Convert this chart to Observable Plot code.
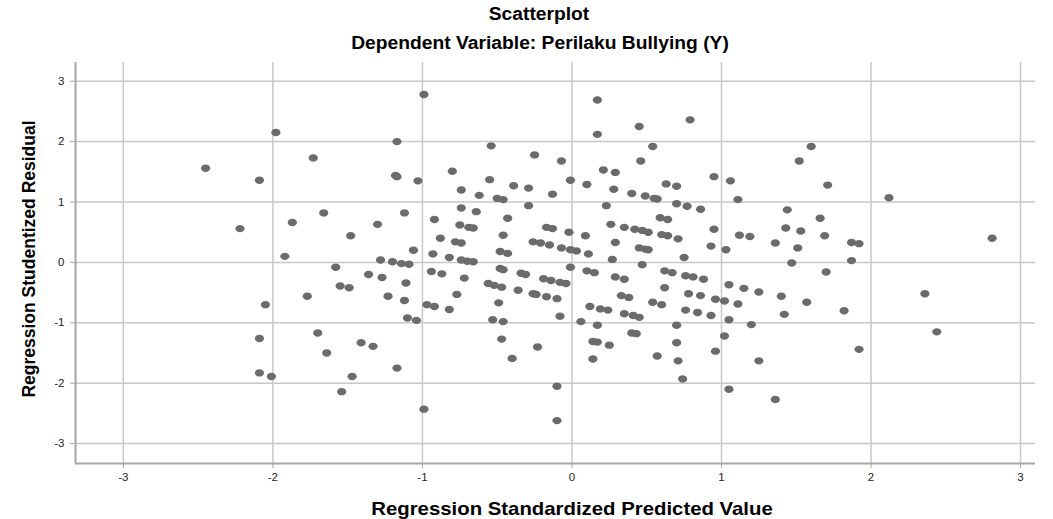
<!DOCTYPE html>
<html><head><meta charset="utf-8">
<script src="https://cdn.jsdelivr.net/npm/d3@7"></script>
<script src="https://cdn.jsdelivr.net/npm/@observablehq/plot@0.6"></script>
<style>
body{margin:0;background:#fff;font-family:"Liberation Sans",Arial,sans-serif}
#wrap{position:relative;width:1053px;height:519px}
.t{position:absolute;white-space:nowrap;font-weight:bold;color:#000;line-height:1;transform:translate(-50%,-50%) scale(1.1,1)}
#chart svg{display:block}
</style></head><body>
<div id="wrap">
<div id="chart"></div>
<div class="t" style="left:539px;top:15px;font-size:17.5px">Scatterplot</div>
<div class="t" style="left:540px;top:44px;font-size:17.5px">Dependent Variable: Perilaku Bullying (Y)</div>
<div class="t" style="left:572px;top:509px;font-size:18.5px">Regression Standardized Predicted Value</div>
<div class="t" style="left:29px;top:259px;font-size:17.5px;transform:translate(-50%,-50%) scale(1.1,1) rotate(-90deg)">Regression Studentized Residual</div>
</div>
<script>
const predicted = [-1.98,-2.45,-2.09,-1.73,-1.66,-1.87,-2.22,-1.92,-1.77,-2.05,-1.70,-2.09,-2.09,-2.01,-1.64,
-0.99,-1.17,-0.54,-0.25,-0.07,-1.18,-1.17,-1.03,-0.80,-0.55,-0.39,-0.29,-0.01,-0.74,-0.62,-0.50,-0.46,-0.13,-0.29,
-1.12,-0.74,-0.64,-1.30,-0.92,-0.75,-0.69,-0.66,-0.43,-0.17,-0.13,-0.02,-1.48,-0.88,-0.78,-0.74,-0.46,-0.26,-0.21,
-0.15,-0.07,-0.01,-1.06,-0.93,-0.82,-0.48,-0.43,-1.28,-1.20,-1.14,-1.09,-1.58,-0.74,-0.70,-0.66,-0.94,-0.87,-0.48,
-0.46,-0.34,-0.31,-0.19,-0.14,-0.08,-0.04,-1.36,-1.27,-1.55,-1.49,-1.11,-0.72,-0.56,-0.52,-0.47,-0.36,-0.26,-0.24,
-0.17,-0.10,-1.23,-1.12,-0.77,-0.97,-0.92,-0.82,-0.49,-1.10,-1.04,-0.53,-0.46,-0.08,-1.41,-1.33,-1.17,-1.47,-1.54,
-0.47,-0.40,-0.23,-0.10,-0.99,-0.10,
0.17,0.17,0.45,0.79,0.54,0.46,0.21,0.29,0.10,0.28,0.63,0.70,0.95,1.06,1.11,0.40,0.49,0.55,0.57,0.23,0.70,0.77,0.86,
0.59,0.64,0.26,0.35,0.42,0.47,0.51,0.95,0.09,0.60,0.64,0.71,1.12,1.19,0.29,0.03,0.11,0.45,0.49,0.51,0.93,1.03,1.36,
1.43,1.44,1.53,1.51,1.52,1.60,0.27,0.47,0.75,1.47,
1.71,2.12,1.66,1.69,1.87,1.92,1.87,2.81,
1.70,1.82,1.92,2.36,2.44,
-0.01,0.10,0.15,0.29,0.35,0.62,0.67,0.76,0.81,0.88,0.62,1.05,1.15,1.25,1.40,1.57,0.33,0.38,0.78,0.86,0.96,1.02,1.11,
0.12,0.19,0.24,0.54,0.60,0.76,0.84,0.93,0.35,0.41,0.45,0.06,0.17,0.70,1.05,1.20,1.42,0.40,0.43,0.14,0.17,0.25,0.70,
1.02,0.14,0.57,0.71,0.96,1.25,0.74,1.05,1.36];
const residual = [2.15,1.56,1.36,1.73,0.82,0.66,0.56,0.10,-0.56,-0.70,-1.17,-1.26,-1.83,-1.89,-1.50,
2.78,2.00,1.93,1.78,1.68,1.44,1.42,1.35,1.51,1.37,1.27,1.23,1.36,1.20,1.11,1.06,1.04,1.13,0.94,
0.82,0.90,0.84,0.63,0.71,0.62,0.58,0.57,0.73,0.58,0.56,0.50,0.44,0.40,0.34,0.32,0.45,0.34,0.32,
0.29,0.24,0.21,0.20,0.14,0.08,0.18,0.15,0.04,0.01,-0.02,-0.03,-0.08,0.04,0.02,0.01,-0.15,-0.19,-0.10,
-0.12,-0.18,-0.20,-0.27,-0.30,-0.33,-0.35,-0.20,-0.25,-0.39,-0.42,-0.34,-0.26,-0.35,-0.38,-0.41,-0.46,-0.52,-0.53,
-0.57,-0.60,-0.56,-0.63,-0.53,-0.70,-0.73,-0.78,-0.67,-0.92,-0.96,-0.95,-0.98,-0.89,-1.33,-1.39,-1.75,-1.89,-2.14,
-1.27,-1.59,-1.40,-2.05,-2.43,-2.62,
2.69,2.12,2.25,2.36,1.92,1.68,1.53,1.49,1.29,1.21,1.30,1.26,1.42,1.35,1.04,1.14,1.10,1.06,1.05,0.94,0.97,0.93,0.88,
0.74,0.71,0.63,0.58,0.55,0.53,0.50,0.55,0.44,0.46,0.44,0.39,0.45,0.43,0.33,0.19,0.14,0.24,0.22,0.21,0.27,0.21,0.32,
0.57,0.87,0.52,0.24,1.68,1.92,0.05,-0.04,0.08,-0.01,
1.28,1.07,0.73,0.44,0.33,0.31,0.03,0.40,
-0.16,-0.80,-1.44,-0.52,-1.15,
-0.08,-0.14,-0.17,-0.24,-0.28,-0.14,-0.17,-0.22,-0.24,-0.28,-0.42,-0.37,-0.43,-0.49,-0.56,-0.66,-0.55,-0.58,-0.52,-0.55,-0.61,-0.64,-0.69,
-0.73,-0.77,-0.79,-0.66,-0.70,-0.79,-0.83,-0.88,-0.85,-0.88,-0.91,-0.98,-1.04,-1.04,-0.95,-1.03,-0.86,-1.17,-1.18,-1.31,-1.32,-1.37,-1.33,
-1.22,-1.60,-1.55,-1.63,-1.47,-1.63,-1.93,-2.10,-2.27];
const xTicks = [-3,-2,-1,0,1,2,3];
const yTicks = [-3,-2,-1,0,1,2,3];
const xDomain = [-3.32, 3.10];
const yDomain = [-3.33, 3.31];

const points = predicted.map((x, i) => ({x, y: residual[i]}));

const ellipse = {
  draw(ctx) {
    const rx = 4.6, ry = 3.7, k = 0.5523;
    ctx.moveTo(rx, 0);
    ctx.bezierCurveTo(rx, ry*k, rx*k, ry, 0, ry);
    ctx.bezierCurveTo(-rx*k, ry, -rx, ry*k, -rx, 0);
    ctx.bezierCurveTo(-rx, -ry*k, -rx*k, -ry, 0, -ry);
    ctx.bezierCurveTo(rx*k, -ry, rx, -ry*k, rx, 0);
    ctx.closePath();
  }
};

const chart = Plot.plot({
  width: 1053,
  height: 519,
  marginLeft: 75,
  marginRight: 18,
  marginTop: 62,
  marginBottom: 56,
  style: {fontFamily: "'Liberation Sans', Arial, sans-serif", fontSize: "11.5px", color: "#222", background: "#fff"},
  x: {domain: xDomain},
  y: {domain: yDomain},
  marks: [
    Plot.gridX(xTicks, {stroke: "#c8c8c8", strokeOpacity: 1, strokeWidth: 1.5}),
    Plot.gridY(yTicks, {stroke: "#c8c8c8", strokeOpacity: 1, strokeWidth: 1.5}),
    Plot.ruleX([xDomain[0]], {stroke: "#a6a6a6", strokeWidth: 2}),
    Plot.ruleY([yDomain[0]], {stroke: "#a6a6a6", strokeWidth: 2}),
    Plot.axisX(xTicks, {tickFormat: d => String(d), label: null, tickSize: 5, tickPadding: 4, stroke: "#a6a6a6"}),
    Plot.axisY(yTicks, {tickFormat: d => String(d), label: null, tickSize: 5, tickPadding: 6, stroke: "#a6a6a6"}),
    Plot.dot(points, {x: "x", y: "y", symbol: ellipse, r: 4, fill: "#6b6b6b", stroke: "none"})
  ]
});
document.getElementById("chart").appendChild(chart);
</script>
</body></html>
